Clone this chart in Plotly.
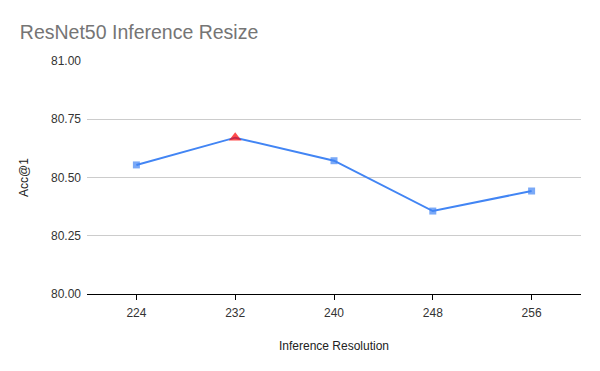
import plotly.graph_objects as go

resolutions = ["224", "232", "240", "248", "256"]
acc1 = [80.554, 80.671, 80.572, 80.356, 80.442]
marker_symbols = ["square", "triangle-up", "square", "square", "square"]
marker_colors = ["#4285F4", "#FF0000", "#4285F4", "#4285F4", "#4285F4"]
marker_sizes = [7, 11, 7, 7, 7]
y_ticks = [80.0, 80.25, 80.5, 80.75, 81.0]

fig = go.Figure()
fig.add_trace(go.Scatter(
    x=resolutions, y=acc1, mode="lines+markers",
    line=dict(color="#4285F4", width=2),
    marker=dict(symbol=marker_symbols, color=marker_colors, size=marker_sizes, line=dict(width=0)),
    showlegend=False,
))

font = "Liberation Sans, Arial, sans-serif"
fig.update_layout(
    width=592, height=363,
    margin=dict(l=79, r=19, t=53, b=77),
    paper_bgcolor="white", plot_bgcolor="white",
    font=dict(family=font, size=12, color="#333333"),
    title=dict(text="ResNet50 Inference Resize", x=0.02, xanchor="left", y=0.934, yanchor="middle",
               font=dict(family=font, size=19.5, color="#757575")),
    xaxis=dict(type="category", range=[-0.5, 4.5], showgrid=False,
               showline=True, linecolor="#000000", linewidth=1,
               ticks="outside", ticklen=5, tickcolor="#000000",
               ticklabelstandoff=3,
               tickfont=dict(size=12, color="#333333"),
               title=dict(text="Inference Resolution", font=dict(size=12, color="#222222"), standoff=22)),
    yaxis=dict(range=[80.0, 81.0], tickvals=y_ticks, tickformat=".2f",
               showgrid=True, gridcolor="#CCCCCC", gridwidth=1, zeroline=False,
               showline=False, ticks="", ticklabelstandoff=5,
               tickfont=dict(size=12, color="#333333"),
               title=dict(text="Acc@1", font=dict(size=12, color="#222222"), standoff=19)),
)

fig.write_html("out.html")
